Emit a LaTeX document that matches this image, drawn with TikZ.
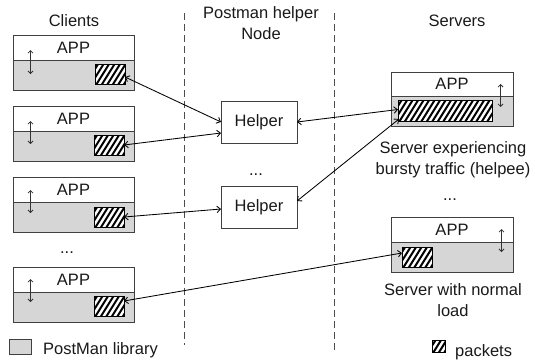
\documentclass[tikz,border=0pt]{standalone}
\usepackage{fontspec}
\setmainfont{Liberation Sans}
\usetikzlibrary{arrows.meta,calc}
\begin{document}
\begin{tikzpicture}[x=1pt,y=-1pt,
  every node/.style={font=\fontsize{16.5}{21}\selectfont, text=black!90},
  appbox/.style={draw=black!75, line width=0.9pt, minimum width=#1, minimum height=25pt, inner sep=0pt, outer sep=0pt, anchor=north west},
  appbox/.default=121pt,
  libbox/.style={draw=black!75, line width=0.9pt, fill=black!16, minimum width=#1, minimum height=30pt, inner sep=0pt, outer sep=0pt, anchor=north west},
  libbox/.default=121pt,
  hatch/.style={draw=black, line width=0.7pt, fill=white, inner sep=0pt, outer sep=0pt, anchor=north west,
    path picture={\foreach \k in {0,...,32}{\draw[line width=2pt,black] ([xshift={\k*5.5pt-40pt},yshift=-5pt]path picture bounding box.south west) -- ++(58:60pt);}}},
  helperbox/.style={draw=black!75, line width=0.9pt, minimum width=76pt, minimum height=42pt, inner sep=0pt, outer sep=0pt},
  conn/.style={black, line width=0.85pt, {Straight Barb[length=3.5pt,width=6.5pt]}-{Straight Barb[length=3.5pt,width=6.5pt]}},
  updown/.style={black!80, line width=0.8pt, {Straight Barb[length=2.5pt,width=5pt]}-{Straight Barb[length=2.5pt,width=5pt]}},
  sep/.style={black!70, line width=0.8pt, dash pattern=on 7pt off 4pt},
]
\useasboundingbox (0,0) rectangle (535,360);

% titles
\node (tclients) at (74,21) {Clients};
\node[align=center] (thelper) at (261,23.5) {Postman helper\\Node};
\node (tservers) at (457,21) {Servers};

% separators
\draw[sep] (184,13) -- (184,345);
\draw[sep] (334,13) -- (334,350);

% clients
\node[appbox] (a1) at (13,35) {APP};
\node[libbox] (l1) at (13,60) {};
\node[hatch, minimum width=30pt, minimum height=20pt] (p1) at (95,64) {};
\draw[updown] (30.5,50) -- (30.5,74);

\node[appbox] (a2) at (13,106) {APP};
\node[libbox] (l2) at (13,131) {};
\node[hatch, minimum width=30pt, minimum height=20pt] (p2) at (94,135) {};
\draw[updown] (30.5,121) -- (30.5,144);

\node[appbox] (a3) at (13,177) {APP};
\node[libbox] (l3) at (13,202) {};
\node[hatch, minimum width=30pt, minimum height=20pt] (p3) at (94,207) {};
\draw[updown] (30.5,190) -- (30.5,213);

\node[anchor=base] (dc) at (67,253) {...};

\node[appbox] (a4) at (13,267) {APP};
\node[libbox] (l4) at (13,292) {};
\node[hatch, minimum width=30pt, minimum height=20pt] (p4) at (94,296) {};
\draw[updown] (30.5,279) -- (30.5,302);

% helpers
\node[helperbox] (h1) at (259,122) {Helper};
\node[anchor=base] (dh) at (256,175) {...};
\node[helperbox] (h2) at (259,207) {Helper};

% servers
\node[appbox=122pt, minimum height=24pt] (sa1) at (391,72) {APP};
\node[libbox=122pt] (sl1) at (391,96) {};
\node[hatch, minimum width=94pt, minimum height=21pt] (sp1) at (398,100) {};
\draw[updown] (500.5,84) -- (500.5,107);
\node[align=center] (st1) at (453,160) {Server experiencing\\bursty traffic (helpee)};

\node[anchor=base] (ds) at (450,200) {...};

\node[appbox=122pt] (sa2) at (391,217) {APP};
\node[libbox=122pt] (sl2) at (391,242) {};
\node[hatch, minimum width=30pt, minimum height=20pt] (sp2) at (402,247) {};
\draw[updown] (501.5,229) -- (501.5,252);
\node[align=center] (st2) at (453,300) {Server with normal\\load};

% connectors
\draw[conn] ([yshift=-3pt]p1.east) -- (h1.west);
\draw[conn] (p2.east) -- ([yshift=-11pt]h1.west);
\draw[conn] (p3.east) -- ([yshift=-2pt]h2.west);
\draw[conn] ([yshift=5pt]p4.east) -- ([yshift=4pt]sp2.west);
\draw[conn] (h1.east) -- ([yshift=1pt]sp1.west);
\draw[conn] ([yshift=6pt]h2.east) -- ([xshift=1pt,yshift=2pt]sp1.south west);

% legend
\node[draw=black!75, line width=0.9pt, fill=black!16, minimum width=22pt, minimum height=15pt, inner sep=0pt, anchor=north west] (lg1) at (9,339) {};
\node[anchor=base west, inner sep=0pt] (lt1) at (43,354) {PostMan library};
\node[hatch, minimum width=13pt, minimum height=12pt] (lg2) at (432,340) {};
\node[anchor=base west, inner sep=0pt] (lt2) at (455,356) {packets};
\end{tikzpicture}
\end{document}
